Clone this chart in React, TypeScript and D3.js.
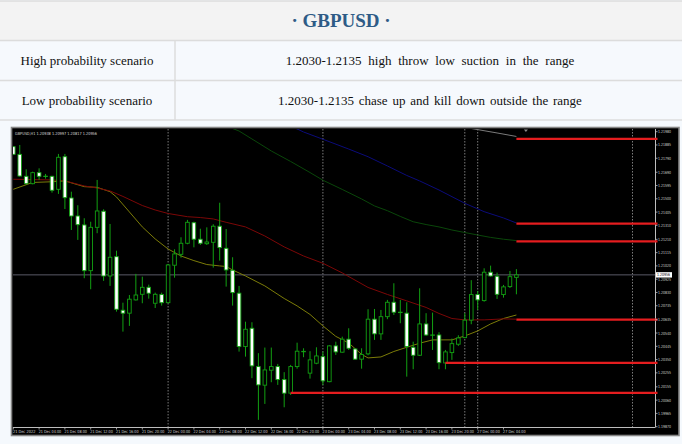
import React from 'react';
import * as d3 from 'd3';

const W = 682;
const H = 444;

const titleText = '· GBPUSD ·';
const rowLabels = ['High probability scenario', 'Low probability scenario'];
const rowTexts = [
  '1.2030-1.2135 high throw low suction in the range',
  '1.2030-1.2135 chase up and kill down outside the range',
];
const chartCaption = 'GBPUSD,H1  1.20938  1.20997  1.20817  1.20956';

const timeLabels = [
  '21 Dec 2022', '21 Dec 04:00', '21 Dec 08:00', '21 Dec 12:00', '21 Dec 16:00',
  '21 Dec 20:00', '22 Dec 00:00', '22 Dec 04:00', '22 Dec 08:00', '22 Dec 12:00',
  '22 Dec 16:00', '22 Dec 20:00', '23 Dec 00:00', '23 Dec 04:00', '23 Dec 08:00',
  '23 Dec 12:00', '23 Dec 16:00', '23 Dec 20:00', '27 Dec 00:00', '27 Dec 04:00',
];

const priceTicks = [
  1.2198, 1.21885, 1.2179, 1.2169, 1.21595, 1.215, 1.21405, 1.2131, 1.2121, 1.21115,
  1.2102, 1.20925, 1.2083, 1.20735, 1.20635, 1.2054, 1.20445, 1.2035, 1.20255, 1.20155,
  1.2006, 1.19965, 1.1987,
];

const opens = [
  1.21873, 1.21818, 1.21661, 1.21608, 1.21687, 1.21661, 1.21661, 1.21568, 1.21801, 1.21506,
  1.21377, 1.21313, 1.20986, 1.21296, 1.21411, 1.20948, 1.21086, 1.20703, 1.20682, 1.20777,
  1.20817, 1.20867, 1.20753, 1.20815, 1.20757, 1.21025, 1.21103, 1.21182, 1.21329, 1.21211,
  1.21179, 1.21189, 1.21304, 1.21146, 1.20989, 1.20825, 1.20443, 1.20574, 1.203, 1.20167,
  1.20274, 1.203, 1.20207, 1.2011, 1.203, 1.20405, 1.20253, 1.20324, 1.20371, 1.20192,
  1.20448, 1.20403, 1.20496, 1.20426, 1.20353, 1.20391, 1.20639, 1.20534, 1.20657, 1.2076,
  1.20689, 1.20682, 1.20438, 1.20381, 1.20605, 1.20526, 1.20526, 1.20326, 1.204, 1.2046,
  1.20507, 1.20632, 1.20815, 1.20772, 1.20975, 1.20946, 1.20815, 1.20872, 1.20938,
];
const highs = [
  1.21878, 1.21885, 1.21711, 1.21694, 1.21718, 1.21678, 1.21665, 1.21821, 1.21821, 1.21551,
  1.21454, 1.21361, 1.21336, 1.21635, 1.21425, 1.2132, 1.21129, 1.20757, 1.20812, 1.20963,
  1.20943, 1.20886, 1.20829, 1.20829, 1.21034, 1.21139, 1.21225, 1.21349, 1.21336, 1.21286,
  1.21296, 1.21318, 1.21472, 1.21284, 1.21082, 1.20877, 1.20621, 1.20617, 1.20396, 1.20436,
  1.20436, 1.20319, 1.2026, 1.20312, 1.20471, 1.20431, 1.2041, 1.20438, 1.20407, 1.20453,
  1.20478, 1.20514, 1.20574, 1.20431, 1.20431, 1.2071, 1.20712, 1.20705, 1.20777, 1.20896,
  1.20777, 1.2076, 1.20478, 1.2086, 1.20682, 1.20686, 1.20546, 1.20419, 1.205, 1.20524,
  1.20682, 1.20918, 1.20841, 1.21003, 1.21022, 1.20972, 1.20884, 1.20984, 1.20997,
];
const lows = [
  1.21813, 1.21658, 1.21604, 1.21604, 1.21635, 1.21644, 1.21544, 1.21535, 1.21427, 1.21277,
  1.21206, 1.20932, 1.20853, 1.21254, 1.20913, 1.20877, 1.20693, 1.2055, 1.20591, 1.20772,
  1.20753, 1.20786, 1.20719, 1.20736, 1.20755, 1.20936, 1.21079, 1.21175, 1.21153, 1.2117,
  1.2117, 1.21008, 1.21058, 1.20872, 1.20736, 1.20407, 1.20371, 1.20217, 1.19919, 1.20033,
  1.20188, 1.20169, 1.20009, 1.20097, 1.20285, 1.20367, 1.20214, 1.20317, 1.20169, 1.20188,
  1.20383, 1.204, 1.20419, 1.20348, 1.20285, 1.20381, 1.20491, 1.20491, 1.20639, 1.20669,
  1.2061, 1.20228, 1.20281, 1.20376, 1.20519, 1.20419, 1.20281, 1.20281, 1.20348, 1.20448,
  1.20503, 1.20603, 1.20705, 1.20764, 1.20943, 1.20784, 1.20793, 1.20862, 1.20817,
];
const closes = [
  1.21818, 1.21663, 1.21608, 1.21687, 1.21661, 1.2166, 1.21561, 1.21797, 1.21508, 1.21377,
  1.21315, 1.20986, 1.21296, 1.21413, 1.20948, 1.21082, 1.2071, 1.20682, 1.20782, 1.20812,
  1.20867, 1.20825, 1.20817, 1.20757, 1.21027, 1.21106, 1.21182, 1.21332, 1.21211, 1.21182,
  1.21191, 1.21304, 1.21151, 1.20991, 1.20829, 1.20443, 1.20567, 1.20305, 1.20169, 1.20276,
  1.203, 1.20207, 1.2011, 1.203, 1.2041, 1.2041, 1.20348, 1.20376, 1.20198, 1.20448,
  1.20405, 1.20496, 1.20431, 1.20353, 1.20386, 1.20639, 1.20534, 1.20657, 1.2076, 1.20689,
  1.20686, 1.20443, 1.20381, 1.20605, 1.20526, 1.20524, 1.20328, 1.20405, 1.20464, 1.20505,
  1.20632, 1.20815, 1.20777, 1.20975, 1.20948, 1.20817, 1.2087, 1.20943, 1.20956,
];

// moving averages: [bar index, price]
const maYellow: [number, number][] = [
  [0, 1.21568], [3, 1.21617], [6, 1.21622], [8, 1.21628], [11, 1.21587], [13, 1.21582],
  [15, 1.21551], [16, 1.21513], [18, 1.21406], [20, 1.21299], [22, 1.21213], [24, 1.21141],
  [26, 1.21091], [28, 1.21058], [30, 1.2103], [32, 1.2102], [33, 1.21016], [34, 1.20991],
  [36, 1.20948], [39, 1.20877], [42, 1.20787], [44, 1.20734], [46, 1.20673], [48, 1.20591],
  [50, 1.20516], [52, 1.20469], [54, 1.20387], [55, 1.20362], [57, 1.20369], [59, 1.20408],
  [61, 1.20438], [63, 1.20467], [65, 1.20491], [68, 1.20491], [70, 1.20519], [72, 1.20555],
  [74, 1.20605], [76, 1.20644], [78, 1.20669],
];
const maRed: [number, number][] = [
  [0, 1.2164], [6, 1.21635], [8, 1.21628], [11, 1.21592], [13, 1.21577], [15, 1.21556],
  [17, 1.21517], [20, 1.21452], [22, 1.2142], [24, 1.21395], [27, 1.21372], [29, 1.21366],
  [31, 1.21356], [33, 1.21332], [36, 1.21299], [39, 1.21234], [42, 1.21156], [45, 1.21091],
  [48, 1.21039], [51, 1.2097], [55, 1.20866], [58, 1.20816], [61, 1.2077], [64, 1.20723],
  [66, 1.2068], [68, 1.20644], [70, 1.20634], [73, 1.20634], [76, 1.20641], [78, 1.20639],
];
const maGreen: [number, number][] = [
  [32, 1.22039], [35, 1.21985], [37, 1.21928], [40, 1.21842], [43, 1.21767], [46, 1.21688],
  [48, 1.21633], [51, 1.21567], [54, 1.21499], [56, 1.21449], [58, 1.21415], [60, 1.21374],
  [62, 1.21336], [64, 1.21316], [66, 1.21299], [68, 1.21277], [70, 1.21259], [72, 1.21241],
  [74, 1.21224], [76, 1.21211], [78, 1.21201],
];
const maNavy: [number, number][] = [
  [43, 1.22021], [45, 1.21978], [48, 1.21926], [52, 1.21856], [55, 1.21801], [58, 1.21735],
  [61, 1.21667], [63, 1.21628], [66, 1.21563], [70, 1.21468], [73, 1.21408], [76, 1.21363],
  [78, 1.21327],
];
const maGrey: [number, number][] = [
  [70, 1.22011], [72, 1.21995], [75, 1.21971], [78, 1.21946],
];

// key levels: price and bar index where the line starts
const levelPrices = [1.21928, 1.21322, 1.21196, 1.20636, 1.20326, 1.20112];
const levelStarts = [78, 78, 78, 78, 67, 43];

// period separators (bar index)
const separators = [24, 48, 70, 72, 96];

export default function App() {
  const plotL = 13, plotR = 655, plotT = 129, plotB = 427;
  const x = d3.scaleLinear().domain([0, 78]).range([13.3, 516.4]);
  const y = d3.scaleLinear().domain([1.1987, 1.2198]).range([426.7, 131.7]);
  const line = d3.line<[number, number]>().x((d) => x(d[0])).y((d) => y(d[1]));

  const green = '#12a012';
  const bodyW = 3.6;
  const lastClose = closes[closes.length - 1];

  const mas = [
    { d: maYellow, c: '#7c7c08' },
    { d: maRed, c: '#7c0707' },
    { d: maGreen, c: '#0a470a' },
    { d: maNavy, c: '#0b0b7a' },
    { d: maGrey, c: '#7a7a7a' },
  ];

  const serif = 'Liberation Serif, Times New Roman, serif';
  const sans = 'DejaVu Sans, Liberation Sans, sans-serif';

  return (
    <svg width={W} height={H} style={{ position: 'fixed', left: 0, top: 0 }}>
      <defs>
        <clipPath id="plot">
          <rect x={plotL} y={plotT} width={plotR - plotL} height={plotB - plotT} />
        </clipPath>
      </defs>
      <rect x={0} y={0} width={W} height={H} fill="#f5f9fd" />
      {/* table */}
      <rect x={0} y={1} width={W} height={40} fill="#f3f3f3" />
      <rect x={0} y={41} width={W} height={79} fill="#f6f9fd" />
      {[1, 40.5, 80.5, 120].map((yy, i) => (
        <line key={i} x1={0} x2={W} y1={yy} y2={yy} stroke="#dcdcdc" strokeWidth={1.5} />
      ))}
      <line x1={175} x2={175} y1={41} y2={120} stroke="#dcdcdc" strokeWidth={1.5} />
      <text x={341} y={27} textAnchor="middle" fontFamily={serif} fontWeight="bold" fontSize={19} fill="#2e5b86">
        {titleText}
      </text>
      {rowLabels.map((t, i) => (
        <text key={i} x={87} y={64.5 + i * 40} textAnchor="middle" fontFamily={serif} fontSize={13} fill="#111">
          {t}
        </text>
      ))}
      {rowTexts.map((t, i) => (
        <text key={i} x={430} y={64.5 + i * 40} textAnchor="middle" fontFamily={serif} fontSize={13}
          fill="#111" wordSpacing={i === 0 ? 3.5 : 1.6}>
          {t}
        </text>
      ))}

      {/* chart image */}
      <rect x={11.5} y={127.5} width={667.5} height={308} fill="#000" stroke="#858585" strokeWidth={1.6} />
      <line x1={plotR + 0.5} x2={plotR + 0.5} y1={plotT} y2={plotB} stroke="#bdbdbd" strokeWidth={1} />
      <line x1={plotL} x2={plotR + 0.5} y1={plotB + 0.5} y2={plotB + 0.5} stroke="#bdbdbd" strokeWidth={1} />

      <g clipPath="url(#plot)">
        {separators.map((s, i) => (
          <line key={i} x1={x(s)} x2={x(s)} y1={plotT} y2={plotB} stroke="#9a9a9a" strokeWidth={0.8} strokeDasharray="1.5,1.5" />
        ))}
        <line x1={plotL} x2={plotR} y1={y(lastClose)} y2={y(lastClose)} stroke="#5a5a66" strokeWidth={1} />
        {mas.map((m, i) => (
          <path key={i} d={line(m.d) || ''} fill="none" stroke={m.c} strokeWidth={1} />
        ))}
        {opens.map((o, i) => {
          const c = closes[i];
          const cx = x(i);
          const doji = Math.abs(o - c) < 0.00007;
          const top = y(Math.max(o, c));
          const bot = y(Math.min(o, c));
          return (
            <g key={i}>
              <line x1={cx} x2={cx} y1={y(highs[i])} y2={y(lows[i])} stroke={green} strokeWidth={1} />
              {doji ? (
                <line x1={cx - bodyW / 2 - 0.5} x2={cx + bodyW / 2 + 0.5} y1={(top + bot) / 2} y2={(top + bot) / 2}
                  stroke={green} strokeWidth={1.3} />
              ) : (
                <rect x={cx - bodyW / 2} y={top} width={bodyW} height={Math.max(1, bot - top)}
                  fill={c < o ? '#ffffff' : '#000000'} stroke={green} strokeWidth={0.9} />
              )}
            </g>
          );
        })}
        <text x={15} y={135} fontFamily={sans} fontSize={4.2} fill="#d8d8d8" textLength={82} lengthAdjust="spacingAndGlyphs">
          {chartCaption}
        </text>
        <path d={`M${x(78) + 7.5},${plotT + 0.5} l4,0 l-2,2.6 z`} fill="#8a8a8a" />
      </g>

      {/* key levels */}
      {levelPrices.map((p, i) => (
        <line key={i} x1={x(levelStarts[i])} x2={657.5} y1={y(p)} y2={y(p)} stroke="#e51d1f" strokeWidth={2.2} />
      ))}

      {/* price axis */}
      {priceTicks.map((p, i) => (
        <g key={i}>
          <line x1={plotR} x2={plotR + 2.5} y1={y(p)} y2={y(p)} stroke="#bdbdbd" strokeWidth={0.8} />
          <text x={658} y={y(p) + 1.5} fontFamily={sans} fontSize={4.2} fill="#cfcfcf" textLength={13} lengthAdjust="spacingAndGlyphs">
            {p.toFixed(5)}
          </text>
        </g>
      ))}
      <rect x={656} y={y(lastClose) - 2.7} width={16} height={5.4} fill="#ffffff" />
      <text x={657} y={y(lastClose) + 1.6} fontFamily={sans} fontSize={4.2} fill="#000" textLength={13} lengthAdjust="spacingAndGlyphs">
        {lastClose.toFixed(5)}
      </text>

      {/* time axis */}
      {timeLabels.map((t, i) => {
        const xi = x(i * 4);
        return (
          <g key={i}>
            <line x1={xi} x2={xi} y1={plotB} y2={plotB + 2.5} stroke="#bdbdbd" strokeWidth={0.8} />
            <text x={xi - 0.4} y={433} fontFamily={sans} fontSize={4.2} fill="#cfcfcf" textLength={22.5} lengthAdjust="spacingAndGlyphs">
              {t}
            </text>
          </g>
        );
      })}
    </svg>
  );
}
